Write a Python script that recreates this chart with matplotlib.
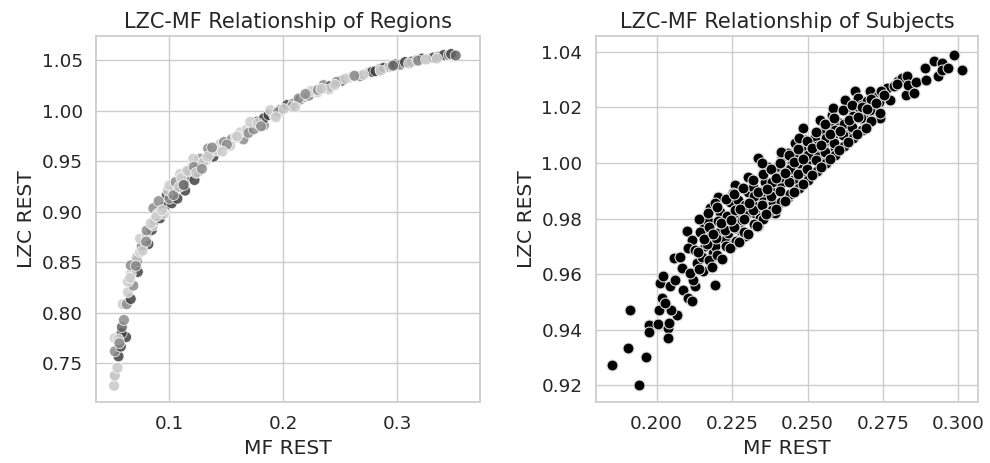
import matplotlib
matplotlib.use("Agg")
import matplotlib.pyplot as plt
import seaborn as sns
import numpy as np

# ---- Left panel: regions (MF REST, LZC REST, gray level of the point) ----
region_mf = [0.0514, 0.052, 0.0543, 0.0552, 0.052, 0.0573, 0.052, 0.0619, 0.058, 0.0582,
             0.060, 0.055, 0.056, 0.059, 0.0625, 0.066, 0.0635, 0.0683, 0.0635, 0.0722,
             0.066, 0.0713, 0.066, 0.0713, 0.0742, 0.0778, 0.0815, 0.0757, 0.0742, 0.080,
             0.0845, 0.080, 0.0857, 0.087, 0.0918, 0.0859, 0.090, 0.0953, 0.095, 0.0977,
             0.102, 0.100, 0.1044, 0.107, 0.0985, 0.100, 0.1055, 0.1138, 0.1138, 0.1094,
             0.1167, 0.122, 0.125, 0.1196, 0.1255, 0.127, 0.121, 0.1313, 0.1387, 0.1357,
             0.134, 0.1402, 0.1445, 0.148, 0.1548, 0.1533, 0.165, 0.1622, 0.168, 0.1695,
             0.174, 0.1769, 0.171, 0.183, 0.183, 0.1871, 0.192, 0.1886, 0.1974, 0.2033,
             0.209, 0.2075, 0.215, 0.2182, 0.2225, 0.2135, 0.230, 0.2355, 0.2413, 0.240,
             0.2516, 0.247, 0.258, 0.263, 0.2675, 0.2745, 0.278, 0.281, 0.2855, 0.2885,
             0.293, 0.2985, 0.3027, 0.307, 0.313, 0.3175, 0.322, 0.328, 0.332, 0.3365,
             0.341, 0.3455, 0.348, 0.3475, 0.335, 0.0835, 0.0905, 0.1105, 0.1175, 0.1295,
             0.1425, 0.1505, 0.1585, 0.1775, 0.1955, 0.2245, 0.2305, 0.2545, 0.2705, 0.3105,
             0.0655, 0.0705, 0.0765, 0.0795, 0.0885, 0.0935, 0.1035, 0.1085, 0.1125, 0.1155,
             0.1215, 0.1235, 0.1285, 0.1335, 0.1375, 0.1465, 0.1595, 0.1805, 0.1935, 0.2005,
             0.2105, 0.2195, 0.2335, 0.2455, 0.2625, 0.2855, 0.2965, 0.3185, 0.3255, 0.3515]
region_lzc = [0.728, 0.738, 0.7457, 0.757, 0.762, 0.7667, 0.775, 0.776, 0.780, 0.786,
              0.793, 0.774, 0.770, 0.8086, 0.8086, 0.8138, 0.8205, 0.827, 0.831, 0.8405,
              0.8385, 0.8514, 0.847, 0.855, 0.8603, 0.8672, 0.868, 0.866, 0.8735, 0.877,
              0.882, 0.8815, 0.8865, 0.8915, 0.8936, 0.9035, 0.898, 0.9047, 0.898, 0.9166,
              0.9084, 0.913, 0.9215, 0.913, 0.9215, 0.926, 0.9295, 0.9209, 0.931, 0.9375,
              0.936, 0.9314, 0.9396, 0.9443, 0.9463, 0.9525, 0.9525, 0.9505, 0.9545, 0.9575,
              0.9625, 0.961, 0.967, 0.969, 0.9718, 0.9652, 0.9716, 0.9785, 0.9815, 0.978,
              0.9815, 0.989, 0.989, 0.9855, 0.9925, 0.9957, 0.9955, 1.0005, 1.0006, 1.0055,
              1.007, 1.004, 1.0112, 1.013, 1.0148, 1.012, 1.018, 1.0253, 1.0243, 1.021,
              1.0296, 1.0285, 1.0325, 1.034, 1.034, 1.0378, 1.0384, 1.039, 1.0415, 1.0425,
              1.043, 1.0457, 1.0453, 1.048, 1.0485, 1.05, 1.0515, 1.0515, 1.0525, 1.0535,
              1.055, 1.055, 1.0555, 1.056, 1.0515, 0.8885, 0.9105, 0.9335, 0.9405, 0.9485,
              0.9605, 0.9665, 0.9745, 0.9875, 0.9985, 1.0195, 1.0205, 1.0315, 1.0355, 1.0465,
              0.8345, 0.8465, 0.8615, 0.8705, 0.8955, 0.9015, 0.9165, 0.9245, 0.9265, 0.9405,
              0.9445, 0.9385, 0.9425, 0.9545, 0.9635, 0.9595, 0.9745, 0.9845, 0.9935, 1.0015,
              1.0035, 1.0165, 1.0215, 1.0255, 1.0345, 1.0395, 1.0445, 1.0495, 1.0505, 1.0545]
region_gray = [0.78, 0.75, 0.78, 0.25, 0.55, 0.25, 0.80, 0.25, 0.25, 0.40,
               0.55, 0.80, 0.55, 0.80, 0.55, 0.25, 0.80, 0.55, 0.80, 0.25,
               0.80, 0.25, 0.55, 0.80, 0.80, 0.25, 0.25, 0.55, 0.80, 0.80,
               0.25, 0.55, 0.80, 0.55, 0.25, 0.55, 0.80, 0.25, 0.80, 0.25,
               0.25, 0.55, 0.25, 0.25, 0.80, 0.80, 0.55, 0.25, 0.55, 0.80,
               0.55, 0.25, 0.25, 0.80, 0.55, 0.55, 0.80, 0.55, 0.25, 0.55,
               0.55, 0.65, 0.80, 0.55, 0.55, 0.80, 0.55, 0.80, 0.80, 0.55,
               0.55, 0.25, 0.80, 0.55, 0.25, 0.25, 0.80, 0.80, 0.25, 0.25,
               0.55, 0.55, 0.25, 0.80, 0.55, 0.55, 0.80, 0.55, 0.25, 0.80,
               0.25, 0.55, 0.80, 0.80, 0.55, 0.80, 0.25, 0.25, 0.55, 0.25,
               0.80, 0.25, 0.55, 0.25, 0.25, 0.55, 0.25, 0.80, 0.25, 0.55,
               0.25, 0.55, 0.80, 0.25, 0.80, 0.80, 0.55, 0.80, 0.55, 0.80,
               0.80, 0.55, 0.80, 0.80, 0.55, 0.80, 0.55, 0.80, 0.80, 0.80,
               0.80, 0.55, 0.80, 0.55, 0.80, 0.80, 0.55, 0.80, 0.40, 0.80,
               0.55, 0.80, 0.55, 0.80, 0.55, 0.80, 0.80, 0.55, 0.80, 0.80,
               0.80, 0.55, 0.80, 0.80, 0.55, 0.80, 0.40, 0.55, 0.80, 0.40]

# ---- Right panel: subjects (MF REST, LZC REST) ----
subject_mf = [0.1853, 0.1941, 0.1904, 0.1912, 0.1964, 0.1975, 0.1975, 0.2006, 0.2008, 0.2036,
              0.2039, 0.2041, 0.2067, 0.2048, 0.2011, 0.2017, 0.2028, 0.2022, 0.2044, 0.2061,
              0.2058, 0.2077, 0.2083, 0.2088, 0.2105, 0.2116, 0.2127, 0.2122, 0.2110, 0.2099,
              0.2116, 0.2105, 0.2127, 0.2133, 0.2155, 0.2149, 0.2160, 0.2171, 0.2158, 0.2171,
              0.2177, 0.2193, 0.2177, 0.2188, 0.2193, 0.2199, 0.2204, 0.2193, 0.2210, 0.2221,
              0.2227, 0.2238, 0.2249, 0.2243, 0.2260, 0.2254, 0.2271, 0.2265, 0.2276, 0.2260,
              0.2282, 0.2293, 0.2298, 0.2304, 0.2304, 0.2320, 0.2315, 0.2326, 0.2337, 0.2343,
              0.2337, 0.2348, 0.2354, 0.2359, 0.2370, 0.2376, 0.2381, 0.2392, 0.2387, 0.2398,
              0.2403, 0.2409, 0.2414, 0.2425, 0.2436, 0.2436, 0.2448, 0.2453, 0.2459, 0.2464,
              0.2475, 0.2481, 0.2486, 0.2492, 0.2497, 0.2503, 0.2514, 0.2525, 0.2530, 0.2541,
              0.2547, 0.2552, 0.2558, 0.2564, 0.2575, 0.2580, 0.2586, 0.2591, 0.2602, 0.2608,
              0.2624, 0.2630, 0.2635, 0.2641, 0.2646, 0.2657, 0.2663, 0.2668, 0.2680, 0.2685,
              0.2688, 0.2696, 0.2707, 0.2718, 0.2724, 0.2735, 0.2740, 0.2751, 0.2762, 0.2773,
              0.2785, 0.2801, 0.2812, 0.2829, 0.2825, 0.2834, 0.2854, 0.2859, 0.2890, 0.2892,
              0.2920, 0.2934, 0.2945, 0.2945, 0.2967, 0.2987, 0.3013,
              0.2142, 0.2138, 0.2145, 0.2141, 0.2172, 0.2168, 0.2174, 0.2169, 0.2201, 0.2197,
              0.2203, 0.2199, 0.2231, 0.2228, 0.2233, 0.2229, 0.2262, 0.2258, 0.2261, 0.2257,
              0.2291, 0.2288, 0.2292, 0.2287, 0.2322, 0.2318, 0.2321, 0.2319, 0.2352, 0.2348,
              0.2351, 0.2353, 0.2349, 0.2381, 0.2378, 0.2383, 0.2379, 0.2412, 0.2408, 0.2411,
              0.2409, 0.2413, 0.2441, 0.2438, 0.2442, 0.2439, 0.2472, 0.2468, 0.2471, 0.2469,
              0.2473, 0.2502, 0.2498, 0.2501, 0.2499, 0.2531, 0.2528, 0.2532, 0.2529, 0.2561,
              0.2558, 0.2562, 0.2559, 0.2592, 0.2588, 0.2591, 0.2589, 0.2621, 0.2618, 0.2622,
              0.2619, 0.2651, 0.2648, 0.2652, 0.2649, 0.2681, 0.2678, 0.2682, 0.2711, 0.2708,
              0.2712, 0.2741, 0.2738, 0.2742,
              0.2156, 0.2186, 0.2214, 0.2246, 0.2276, 0.2306, 0.2336, 0.2366, 0.2396, 0.2426,
              0.2456, 0.2486, 0.2516, 0.2546, 0.2576, 0.2606, 0.2636, 0.2666, 0.2696, 0.2726,
              0.2184, 0.2216, 0.2244, 0.2274, 0.2304, 0.2334, 0.2364, 0.2394, 0.2424, 0.2454,
              0.2484, 0.2514, 0.2544, 0.2574, 0.2604, 0.2634, 0.2664, 0.2694, 0.2755, 0.2795]
subject_lzc = [0.9274, 0.9200, 0.9334, 0.9472, 0.9304, 0.9418, 0.9394, 0.9421, 0.9472, 0.9406,
               0.9370, 0.9424, 0.9454, 0.9472, 0.9568, 0.9514, 0.9496, 0.9592, 0.9556, 0.9580,
               0.9657, 0.9663, 0.9621, 0.9544, 0.9514, 0.9502, 0.9556, 0.9580, 0.9604, 0.9756,
               0.9724, 0.9694, 0.9688, 0.9640, 0.9610, 0.9663, 0.9700, 0.9736, 0.9766, 0.9790,
               0.9837, 0.9562, 0.9651, 0.9675, 0.9700, 0.9748, 0.9879, 0.9855, 0.9825, 0.9784,
               0.9724, 0.9748, 0.9706, 0.9861, 0.9921, 0.9891, 0.9867, 0.9807, 0.9760, 0.9766,
               0.9795, 0.9736, 0.9819, 0.9897, 0.9951, 0.9915, 0.9855, 0.9819, 0.9772, 0.9801,
               1.0017, 0.9879, 0.9963, 0.9933, 0.9987, 0.9903, 0.9867, 0.9819, 0.9855, 0.9987,
               0.9951, 0.9921, 1.0023, 0.9975, 0.9879, 1.0035, 0.9999, 0.9939, 1.0071, 1.0023,
               0.9975, 1.0047, 1.0125, 1.0083, 0.9957, 1.0011, 1.0059, 1.0095, 1.0029, 1.0155,
               1.0113, 1.0059, 1.0005, 1.0083, 1.0131, 1.0173, 1.0197, 1.0053, 1.0107, 1.0143,
               1.0227, 1.0107, 1.0077, 1.0161, 1.0197, 1.0259, 1.0185, 1.0233, 1.0209, 1.0173,
               1.0127, 1.0221, 1.0257, 1.0215, 1.0191, 1.0239, 1.0161, 1.0257, 1.0271, 1.0227,
               1.0275, 1.0293, 1.0305, 1.0311, 1.0245, 1.0281, 1.0251, 1.0291, 1.0341, 1.0299,
               1.0365, 1.0311, 1.0359, 1.0335, 1.0341, 1.0389, 1.0335,
               0.9620, 0.9680, 0.9750, 0.9800, 0.9650, 0.9710, 0.9770, 0.9820, 0.9670, 0.9730,
               0.9790, 0.9840, 0.9700, 0.9760, 0.9810, 0.9870, 0.9720, 0.9770, 0.9830, 0.9890,
               0.9750, 0.9800, 0.9850, 0.9910, 0.9780, 0.9830, 0.9880, 0.9940, 0.9800, 0.9850,
               0.9900, 0.9960, 1.0000, 0.9830, 0.9880, 0.9930, 0.9980, 0.9860, 0.9900, 0.9950,
               1.0000, 1.0040, 0.9890, 0.9930, 0.9980, 1.0030, 0.9910, 0.9960, 1.0000, 1.0050,
               1.0090, 0.9940, 0.9980, 1.0030, 1.0080, 0.9970, 1.0010, 1.0060, 1.0110, 1.0000,
               1.0040, 1.0090, 1.0140, 1.0030, 1.0070, 1.0120, 1.0160, 1.0060, 1.0100, 1.0140,
               1.0190, 1.0090, 1.0130, 1.0170, 1.0210, 1.0120, 1.0160, 1.0200, 1.0150, 1.0190,
               1.0230, 1.0180, 1.0220, 1.0260,
               0.9725, 0.9745, 0.9785, 0.9795, 0.9835, 0.9855, 0.9895, 0.9905, 0.9945, 0.9965,
               1.0005, 1.0015, 1.0055, 1.0065, 1.0105, 1.0115, 1.0155, 1.0165, 1.0195, 1.0215,
               0.9625, 0.9655, 0.9695, 0.9715, 0.9745, 0.9775, 0.9815, 0.9835, 0.9865, 0.9895,
               0.9925, 0.9955, 0.9985, 1.0015, 1.0045, 1.0075, 1.0105, 1.0125, 1.0245, 1.0285]

titles = ["LZC-MF Relationship of Regions", "LZC-MF Relationship of Subjects"]
xlabel = "MF REST"
ylabel = "LZC REST"
left_xticks = [0.1, 0.2, 0.3]
left_yticks = [0.75, 0.80, 0.85, 0.90, 0.95, 1.00, 1.05]
right_xticks = [0.200, 0.225, 0.250, 0.275, 0.300]
right_yticks = [0.92, 0.94, 0.96, 0.98, 1.00, 1.02, 1.04]

sns.set_theme(style="whitegrid", font_scale=1.2)
plt.rcParams['font.family'] = ['DejaVu Sans']
plt.rcParams['axes.titlesize'] = 15
plt.rcParams['axes.labelsize'] = 14.6

fig = plt.figure(figsize=(9.9, 4.63), dpi=100)
ax1 = fig.add_axes([0.097, 0.132, 0.388, 0.790])
ax2 = fig.add_axes([0.6017, 0.132, 0.3865, 0.790])

gcols = [(g, g, g) for g in region_gray]
ax1.scatter(region_mf, region_lzc, c=gcols, s=62, alpha=0.85,
            edgecolors='white', linewidths=0.6, zorder=3)
ax1.set_xlim(0.0355, 0.373)
ax1.set_ylim(0.712, 1.0737)
ax1.set_xticks(left_xticks)
ax1.set_xticklabels([f"{v:.1f}" for v in left_xticks])
ax1.set_yticks(left_yticks)
ax1.set_yticklabels([f"{v:.2f}" for v in left_yticks])

ax2.scatter(subject_mf, subject_lzc, c='black', s=62,
            edgecolors='#dddddd', linewidths=0.8, zorder=3)
ax2.set_xlim(0.1798, 0.3066)
ax2.set_ylim(0.9141, 1.0456)
ax2.set_xticks(right_xticks)
ax2.set_xticklabels([f"{v:.3f}" for v in right_xticks])
ax2.set_yticks(right_yticks)
ax2.set_yticklabels([f"{v:.2f}" for v in right_yticks])

for ax, t in zip([ax1, ax2], titles):
    ax.set_title(t)
    ax.set_xlabel(xlabel)
    ax.set_ylabel(ylabel)
    ax.set_axisbelow(True)

fig.savefig("out.png", dpi=100)
